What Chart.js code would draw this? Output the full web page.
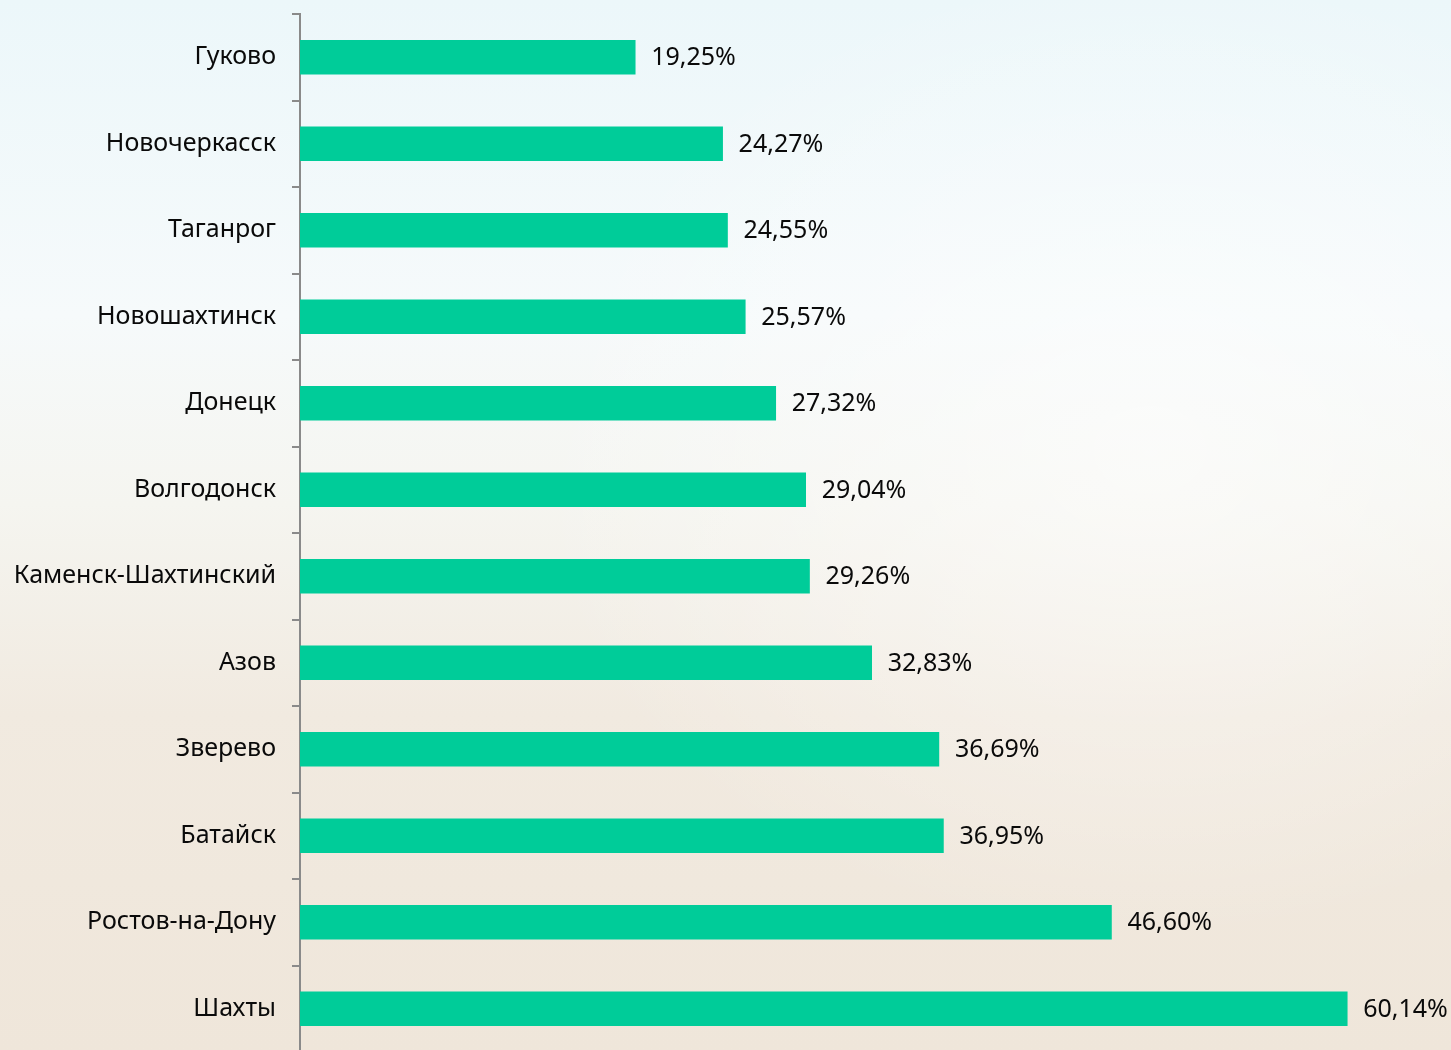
<!DOCTYPE html>
<html>
<head>
<meta charset="utf-8">
<script src="https://cdn.jsdelivr.net/npm/chart.js@4.4.1/dist/chart.umd.min.js"></script>
<style>
  html, body { margin: 0; padding: 0; overflow: hidden; }
  body {
    width: 1451px; height: 1050px;
    background:
      radial-gradient(ellipse 900px 700px at 1150px 450px, rgba(255,255,255,0.55), rgba(255,255,255,0) 70%),
      linear-gradient(to bottom, #ecf7fa 0%, #f6fafb 30%, #f5f5f0 48%, #f1eae0 68%, #efe6da 100%);
  }
  #wrap { position: relative; width: 1451px; height: 1100px; margin-top: -17px; }
</style>
</head>
<body>
<div id="wrap"><canvas id="graficoCidades"></canvas></div>
<script>
// cidades e percentuais, de cima para baixo
const cidades = ['Гуково', 'Новочеркасск', 'Таганрог', 'Новошахтинск', 'Донецк', 'Волгодонск',
  'Каменск-Шахтинский', 'Азов', 'Зверево', 'Батайск', 'Ростов-на-Дону', 'Шахты'];
const valores = [19.25, 24.27, 24.55, 25.57, 27.32, 29.04, 29.26, 32.83, 36.69, 36.95, 46.60, 60.14];

const corBarra = '#00cc99';
const fonte = "'Noto Sans', 'DejaVu Sans', sans-serif";

// escreve o valor ao lado de cada barra
const rotulosValor = {
    id: 'rotulosValor',
    afterDatasetsDraw(chart) {
        const ctx = chart.ctx;
        const meta = chart.getDatasetMeta(0);
        ctx.save();
        ctx.font = '25px ' + fonte;
        ctx.fillStyle = '#0a0a0a';
        ctx.textAlign = 'left';
        ctx.textBaseline = 'middle';
        meta.data.forEach(function (barra, i) {
            const texto = valores[i].toFixed(2).replace('.', ',') + '%';
            ctx.fillText(texto, barra.x + 16, barra.y + 1);
        });
        ctx.restore();
    }
};

const dadosCidades = {
    labels: cidades,
    datasets: [{
        data: valores,
        backgroundColor: corBarra,
        borderWidth: 0,
        barThickness: 34
    }]
};

const configCidades = {
    type: 'bar',
    data: dadosCidades,
    options: {
        indexAxis: 'y',
        responsive: true,
        maintainAspectRatio: false,
        animation: false,
        layout: { padding: { top: 13, right: 0, bottom: 0, left: 0 } },
        plugins: {
            legend: { display: false },
            tooltip: { enabled: false }
        },
        scales: {
            x: {
                display: false,
                min: 0,
                max: 66.1
            },
            y: {
                afterFit(scale) { scale.width = 300; },
                border: { display: true, color: '#8a8a8a', width: 2 },
                grid: {
                    offset: true,
                    drawOnChartArea: false,
                    drawTicks: true,
                    tickLength: 8,
                    color: '#8a8a8a',
                    lineWidth: 2
                },
                ticks: {
                    color: '#0a0a0a',
                    padding: 16,
                    font: { family: fonte, size: 25 }
                }
            }
        }
    },
    plugins: [rotulosValor]
};

let meuGrafico = new Chart(document.getElementById('graficoCidades'), configCidades);
</script>
</body>
</html>
